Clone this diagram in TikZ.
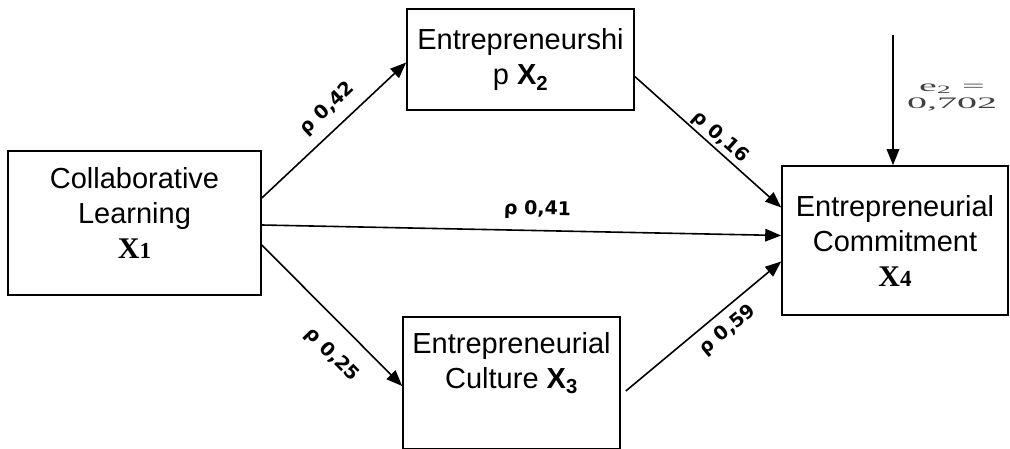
\documentclass[tikz,border=0pt]{standalone}
\usepackage{fontspec}
\setmainfont{Liberation Sans}
\newfontfamily\timesfont{Liberation Serif}
\newfontfamily\coeffont{DejaVu Sans}
\usetikzlibrary{arrows.meta}

\begin{document}
\begin{tikzpicture}[x=1pt, y=-1pt, font=\fontsize{29}{35}\selectfont,
box/.style={draw,line width=1.6pt,align=center,inner sep=0pt},
arr/.style={-{Triangle[length=16pt,width=12.5pt]},line width=1.6pt},
coef/.style={font=\coeffont\bfseries\fontsize{19}{22}\selectfont,sloped,inner sep=2pt},
errlbl/.style={font=\timesfont\fontsize{16}{17}\selectfont,text=black!75,xscale=2.5,align=center,inner sep=0pt}]
\useasboundingbox (0,0) rectangle (1010,449);
\node[box,minimum width=253pt,minimum height=144pt] (collab) at (134.5,223)
  {Collaborative\\Learning\\{\timesfont\bfseries\fontsize{30}{35}\selectfont X\fontsize{23}{23}\selectfont 1}\\[-25pt]\strut};
\node[box,minimum width=227pt,minimum height=101pt] (entre) at (520.5,59.5)
  {Entrepreneurshi\\p \textbf{X}\textsubscript{\textbf{2}}};
\node[box,minimum width=217pt,minimum height=132pt] (cult) at (511.5,383)
  {Entrepreneurial\\Culture \textbf{X}\textsubscript{\textbf{3}}\\\strut};
\node[box,minimum width=226pt,minimum height=149pt] (commit) at (895,240.5)
  {Entrepreneurial\\Commitment\\{\timesfont\bfseries\fontsize{30}{35}\selectfont X\fontsize{23}{23}\selectfont 4}};
\coordinate (err) at (893,35);
\node[errlbl] (e2) at (952,97) {e\textsubscript{2} =\\0,702};
% paths
\draw[arr] ([yshift=25pt]collab.east) -- node[coef,above=8pt,pos=0.55] (p12) {ρ 0,42} ([yshift=-3pt]entre.west);
\draw[arr] ([yshift=-2pt]collab.east) -- node[coef,above=9pt,pos=0.53] (p14) {ρ 0,41} ([yshift=5pt]commit.west);
\draw[arr] ([yshift=-22pt]collab.east) -- node[coef,below=16pt,pos=0.64] (p13) {ρ 0,25} ([yshift=-3pt]cult.west);
\draw[arr] ([yshift=-17pt]entre.east) -- node[coef,above=0pt,pos=0.53] (p24) {ρ 0,16} ([yshift=33pt]commit.west);
\draw[arr] ([xshift=5pt,yshift=-8pt]cult.east) -- node[coef,below=7pt,pos=0.58] (p34) {ρ 0,59} ([yshift=-21pt]commit.west);
\draw[arr] (err) -- ([xshift=-2pt]commit.north);
\end{tikzpicture}
\end{document}
